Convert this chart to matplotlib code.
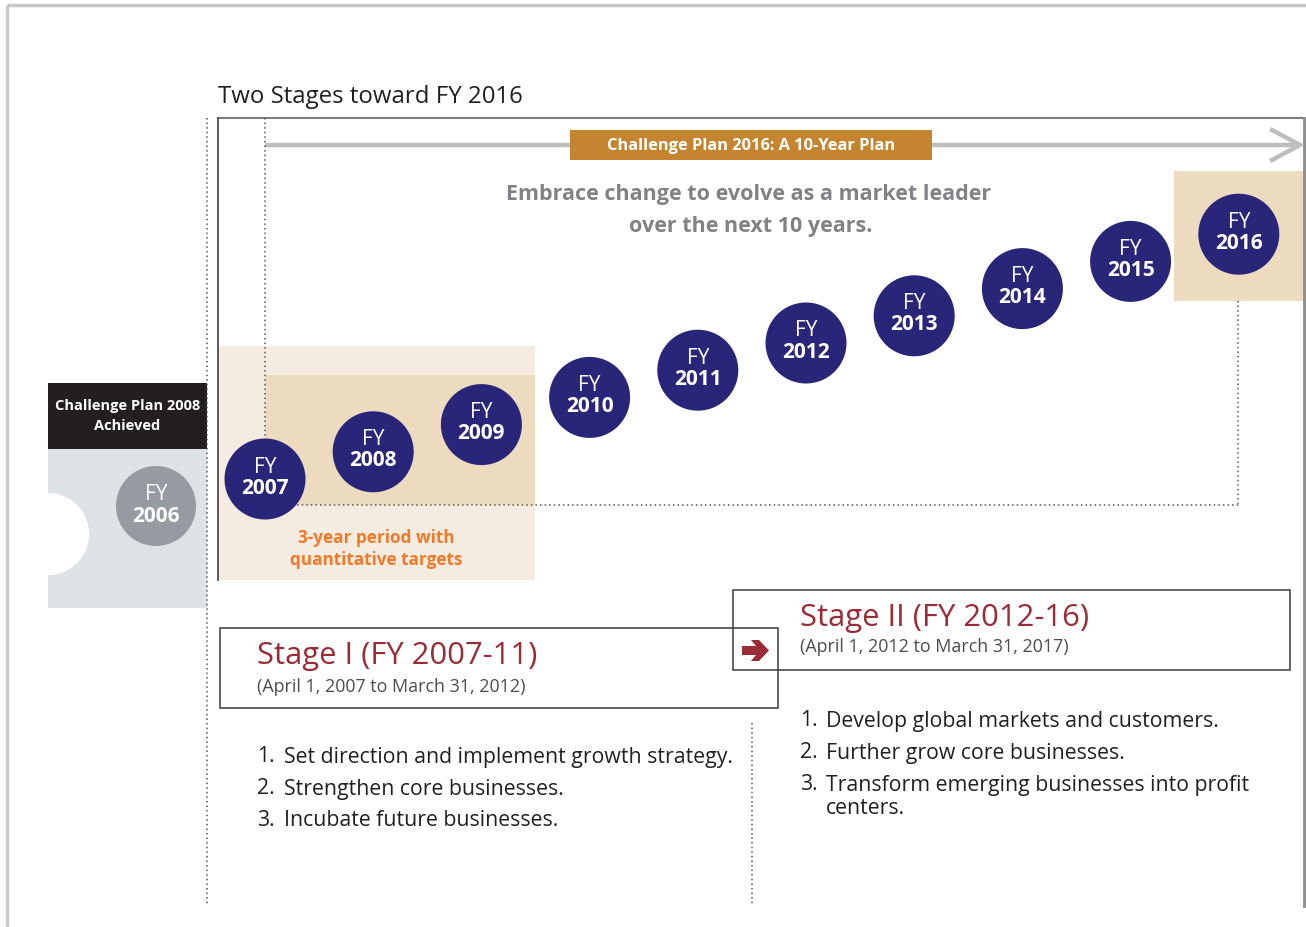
import matplotlib
matplotlib.use("Agg")
import matplotlib.pyplot as plt
from matplotlib.patches import Rectangle, Circle, Wedge, Polygon

plt.rcParams['font.family'] = ['Open Sans', 'DejaVu Sans']

# ---- data ----
title = "Two Stages toward FY 2016"
plan_label = "Challenge Plan 2016: A 10-Year Plan"
vision = ["Embrace change to evolve as a market leader", "over the next 10 years."]
prev_plan = "Challenge Plan 2008\nAchieved"
prev_year = 2006
years = [2007, 2008, 2009, 2010, 2011, 2012, 2013, 2014, 2015, 2016]
period_note = "3-year period with\nquantitative targets"
stage1_title = "Stage I (FY 2007-11)"
stage1_dates = "(April 1, 2007 to March 31, 2012)"
stage1_items = ["Set direction and implement growth strategy.",
                "Strengthen core businesses.",
                "Incubate future businesses."]
stage2_title = "Stage II (FY 2012-16)"
stage2_dates = "(April 1, 2012 to March 31, 2017)"
stage2_items = ["Develop global markets and customers.",
                "Further grow core businesses.",
                ["Transform emerging businesses into profit", "centers."]]

NAVY = "#29267a"
RED = "#9b2c35"
BEIGE_L = "#f5ece1"
BEIGE_D = "#eddbbf"
GOLD = "#c58530"
ORANGE = "#f07a2a"
GRAY_TXT = "#808285"
DARK = "#231f20"

W, H = 1306, 927
fig = plt.figure(figsize=(W / 100, H / 100), dpi=100)
ax = fig.add_axes([0, 0, 1, 1])
ax.set_xlim(0, W)
ax.set_ylim(H, 0)
ax.axis("off")

# outer light border
ax.plot([7, W], [5, 5], color="#c8c9cb", lw=2.5, solid_capstyle="butt")
ax.plot([7, 7], [5, H], color="#c8c9cb", lw=2.5, solid_capstyle="butt")

# title
ax.text(218, 97, title, fontsize=17.3, color=DARK, va="center", ha="left")

# beige backgrounds
ax.add_patch(Rectangle((218, 346), 317, 234, color=BEIGE_L, lw=0, zorder=1))
ax.add_patch(Rectangle((265, 375), 270, 130, color=BEIGE_D, lw=0, zorder=1.1))
ax.add_patch(Rectangle((1174, 171), 130, 130, color=BEIGE_D, lw=0, zorder=1.1))

# main frame lines
ax.plot([218, 1304], [118, 118], color="#6d6e70", lw=1.3, zorder=2)
ax.plot([218, 218], [118, 580], color="#4d4d4f", lw=1.3, zorder=2)
ax.plot([1304, 1304], [118, 906], color="#8a8b8d", lw=2.0, zorder=2)

# dotted guides
dot = dict(color="#555555", lw=1.1, ls=(0, (1, 2)), zorder=2.5)
ax.plot([207, 207], [118, 905], **dot)
ax.plot([265, 265], [118, 505], **dot)
ax.plot([265, 1238], [505, 505], **dot)
ax.plot([1238, 1238], [301, 505], **dot)
ax.plot([752, 752], [723, 905], **dot)

# gray timeline arrow
ax.plot([265, 1298], [145, 145], color="#bcbec0", lw=3.2, zorder=2, solid_capstyle="butt")
ax.plot([1272, 1300, 1272], [130, 145, 160], color="#bcbec0", lw=3.2, zorder=2,
        solid_joinstyle="miter")

# gold label
ax.add_patch(Rectangle((570, 130), 362, 30, color=GOLD, lw=0, zorder=3))
ax.text(751, 146, plan_label, fontsize=11.8, fontweight="bold", color="white",
        ha="center", va="center", zorder=4)

# vision text
ax.text(749, 194.5, vision[0], fontsize=15.5, fontweight="bold", color=GRAY_TXT,
        ha="center", va="center")
ax.text(751, 226.5, vision[1], fontsize=15.5, fontweight="bold", color=GRAY_TXT,
        ha="center", va="center")

# left panel: previous plan
ax.add_patch(Rectangle((48, 383), 159, 66, color=DARK, lw=0, zorder=2))
ax.text(127.5, 416, prev_plan, fontsize=10.5, fontweight="bold", color="white",
        ha="center", va="center", linespacing=1.6, zorder=3)
ax.add_patch(Rectangle((48, 449), 159, 159, color="#dfe3e6", lw=0, zorder=2))
ax.add_patch(Wedge((48, 534), 41, 270, 90, color="white", lw=0, zorder=3))
ax.add_patch(Circle((156, 506), 40, color="#959ba0", lw=0, zorder=3))
ax.text(156, 494, "FY", fontsize=15, color="white", ha="center", va="center", zorder=4)
ax.text(156, 516, str(prev_year), fontsize=15, fontweight="bold", color="white",
        ha="center", va="center", zorder=4)

# year circles
x0, dx = 265, 108.2
y0, dy = 479, -27.2
for i, yr in enumerate(years):
    cx, cy = x0 + i * dx, y0 + i * dy
    ax.add_patch(Circle((cx, cy), 40.5, color=NAVY, lw=0, zorder=5))
    ax.text(cx, cy - 12, "FY", fontsize=15, color="white", ha="center", va="center", zorder=6)
    ax.text(cx, cy + 9, str(yr), fontsize=15, fontweight="bold", color="white",
            ha="center", va="center", zorder=6)

# orange note
ax.text(376, 549, period_note, fontsize=12.3, fontweight="bold", color=ORANGE,
        ha="center", va="center", linespacing=1.25, zorder=3)

# stage boxes
ax.add_patch(Rectangle((220, 628), 558, 80, fill=False, ec="#3a3a3c", lw=1.1, zorder=3))
ax.add_patch(Rectangle((733, 590), 557, 80, fill=False, ec="#3a3a3c", lw=1.1, zorder=3))
ax.add_patch(Rectangle((734, 629), 43, 40, color="white", lw=0, zorder=3.2))

ax.text(257, 656, stage1_title, fontsize=22.3, color=RED, ha="left", va="center", zorder=4)
ax.text(257, 686.5, stage1_dates, fontsize=12.9, color="#4d4d4f", ha="left", va="center", zorder=4)
ax.text(800, 618, stage2_title, fontsize=22.3, color=RED, ha="left", va="center", zorder=4)
ax.text(800, 647.5, stage2_dates, fontsize=12.9, color="#4d4d4f", ha="left", va="center", zorder=4)

# red arrow
arrow = [(742, 646), (756, 646), (751, 640), (759, 640), (769, 650.5),
         (759, 661), (751, 661), (756, 655), (742, 655)]
ax.add_patch(Polygon(arrow, closed=True, color=RED, lw=0, zorder=4))

# lists
FS = 15.3
for i, item in enumerate(stage1_items):
    y = 757 + i * 32
    ax.text(257, y, f"{i + 1}.", fontsize=FS, color=DARK, ha="left", va="center")
    ax.text(284, y, item, fontsize=FS, color=DARK, ha="left", va="center")
for i, item in enumerate(stage2_items):
    y = 721 + i * 32
    ax.text(800, y, f"{i + 1}.", fontsize=FS, color=DARK, ha="left", va="center")
    lines = item if isinstance(item, list) else [item]
    for j, ln in enumerate(lines):
        ax.text(826, y + j * 24, ln, fontsize=FS, color=DARK, ha="left", va="center")

fig.savefig("out.png", dpi=100)
